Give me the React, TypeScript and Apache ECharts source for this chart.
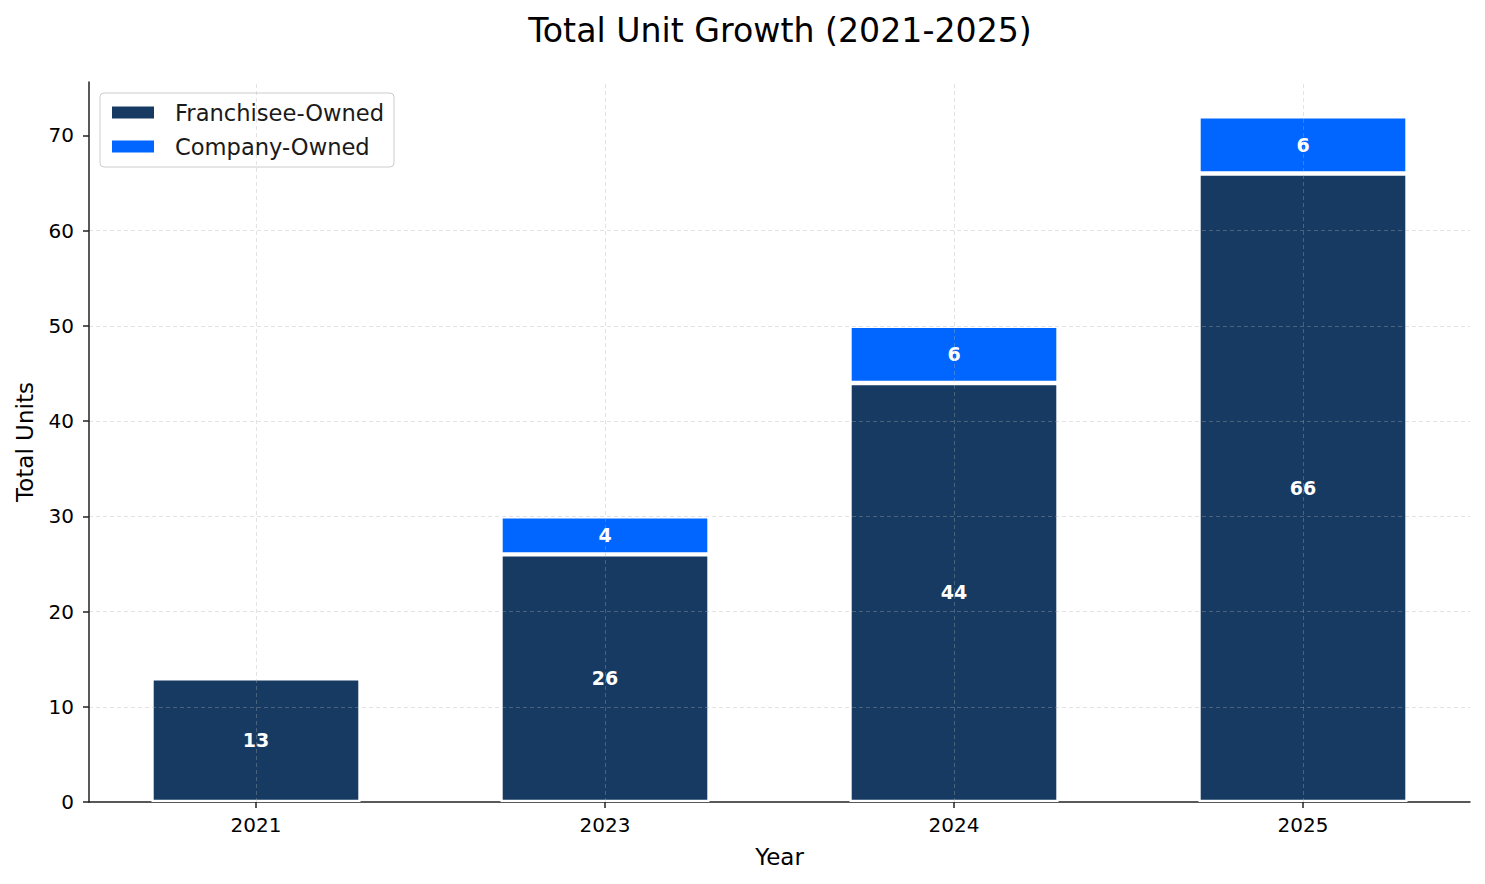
import React, { useRef, useEffect } from 'react';
import * as echarts from 'echarts';

const YEARS = ['2021', '2023', '2024', '2025'];
const FRANCHISEE_OWNED = [13, 26, 44, 66];
const COMPANY_OWNED = [0, 4, 6, 6];
const Y_TICKS = [0, 10, 20, 30, 40, 50, 60, 70];
const Y_MAX = 75.6;

const NAVY = '#163a62';
const BLUE = '#0066ff';
const INK = '#222222';
const GRID = 'rgba(176,176,176,0.35)';
const FONT = 'DejaVu Sans';

const barLabel = {
  show: true,
  position: 'inside',
  color: '#ffffff',
  fontFamily: FONT,
  fontWeight: 'bold',
  fontSize: 19,
  formatter: (p: any) => (p.value ? String(p.value) : '')
};

const App: React.FC = () => {
  const chartRef = useRef<HTMLDivElement>(null);

  useEffect(() => {
    if (!chartRef.current) return;
    const chart = echarts.init(chartRef.current, undefined, { renderer: 'svg' });

    // grid 0 holds the bars (category bands match the source's x padding),
    // grid 1 draws the visible spines, y ticks, horizontal grid and axis names
    const option = {
      animation: false,
      textStyle: { fontFamily: FONT },
      title: {
        text: 'Total Unit Growth (2021-2025)',
        left: 780,
        top: 14,
        padding: 0,
        textAlign: 'center',
        textStyle: { fontFamily: FONT, fontSize: 33.2, fontWeight: 'normal', color: '#000' }
      },
      legend: {
        left: 100,
        top: 93,
        orient: 'vertical',
        itemWidth: 44,
        itemHeight: 14,
        itemGap: 11,
        padding: [8, 10, 9, 10],
        icon: 'rect',
        borderColor: '#cccccc',
        borderWidth: 1,
        borderRadius: 4,
        backgroundColor: 'rgba(255,255,255,0.8)',
        textStyle: { fontFamily: FONT, fontSize: 22.6, color: '#1a1a1a', padding: [0, 0, 0, 15] },
        data: ['Franchisee-Owned', 'Company-Owned']
      },
      grid: [
        { left: 81.5, right: 7.5, top: 82, bottom: 82 },
        { left: 89, right: 15, top: 82, bottom: 82 }
      ],
      xAxis: [
        {
          gridIndex: 0,
          type: 'category',
          data: YEARS,
          axisLine: { show: false },
          axisTick: { show: true, alignWithLabel: true, length: 6, lineStyle: { color: INK, width: 1.5 } },
          axisLabel: { margin: 13, fontFamily: FONT, fontSize: 20, color: '#000' },
          splitLine: { show: false }
        },
        {
          gridIndex: 1,
          type: 'value',
          min: 0,
          max: 1,
          name: 'Year',
          nameLocation: 'middle',
          nameGap: 43,
          nameTextStyle: { fontFamily: FONT, fontSize: 23, color: '#000' },
          axisLine: { show: true, onZero: false, lineStyle: { color: INK, width: 1.5 } },
          axisTick: { show: false },
          axisLabel: { show: false },
          splitLine: { show: false }
        }
      ],
      yAxis: [
        {
          gridIndex: 0,
          type: 'value',
          min: 0,
          max: Y_MAX,
          show: false,
          splitLine: { show: false }
        },
        {
          gridIndex: 1,
          type: 'value',
          min: 0,
          max: Y_MAX,
          interval: 10,
          z: 3,
          name: 'Total Units',
          nameLocation: 'middle',
          nameGap: 53,
          nameRotate: 90,
          nameTextStyle: { fontFamily: FONT, fontSize: 23, color: '#000' },
          axisLine: { show: true, onZero: false, lineStyle: { color: INK, width: 1.5 } },
          axisTick: { show: true, customValues: Y_TICKS, length: 6, lineStyle: { color: INK, width: 1.5 } },
          axisLabel: { customValues: Y_TICKS, margin: 15, fontFamily: FONT, fontSize: 20, color: '#000' },
          splitLine: {
            show: true,
            showMinLine: false,
            showMaxLine: false,
            lineStyle: { color: GRID, type: [4, 3], width: 1 }
          }
        }
      ],
      series: [
        {
          name: 'Franchisee-Owned',
          type: 'bar',
          xAxisIndex: 0,
          yAxisIndex: 0,
          stack: 'total',
          barWidth: 209,
          data: FRANCHISEE_OWNED,
          itemStyle: { color: NAVY, borderColor: '#ffffff', borderWidth: 2.2 },
          label: barLabel
        },
        {
          name: 'Company-Owned',
          type: 'bar',
          xAxisIndex: 0,
          yAxisIndex: 0,
          stack: 'total',
          barWidth: 209,
          data: COMPANY_OWNED,
          itemStyle: { color: BLUE, borderColor: '#ffffff', borderWidth: 2.2 },
          label: barLabel,
          // vertical dashed grid at each year, drawn over the bars
          markLine: {
            silent: true,
            symbol: ['none', 'none'],
            label: { show: false },
            lineStyle: { color: GRID, type: [4, 3], width: 1 },
            emphasis: { disabled: true },
            data: YEARS.map((y) => ({ xAxis: y }))
          }
        }
      ]
    };

    chart.setOption(option);
    return () => chart.dispose();
  }, []);

  return (
    <div
      ref={chartRef}
      style={{ position: 'absolute', left: 0, top: 0, width: 1485, height: 884, background: '#fff' }}
    />
  );
};

export default App;
